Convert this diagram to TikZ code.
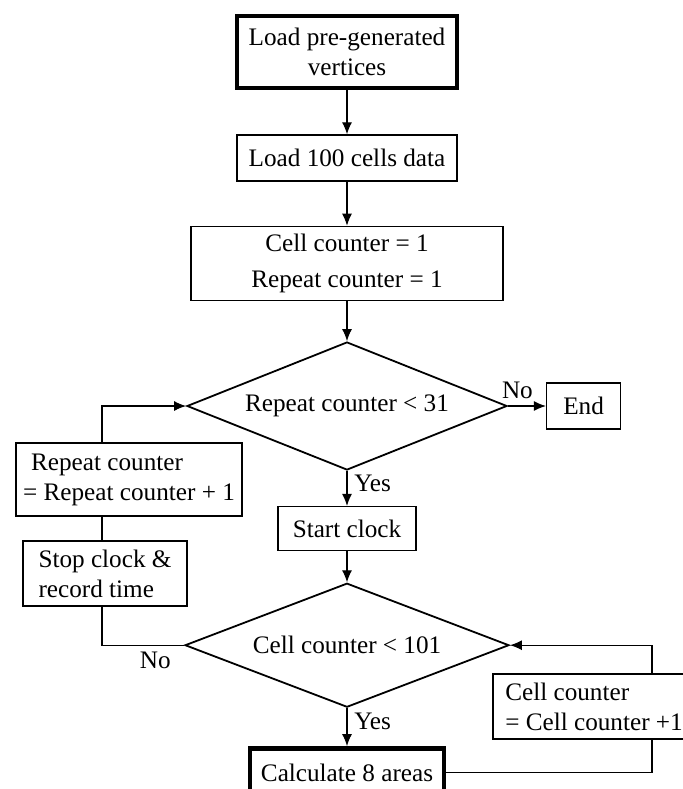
\documentclass[tikz,border=0pt]{standalone}
\usepackage{fontspec}
\setmainfont{Liberation Serif}
\usetikzlibrary{shapes.geometric, arrows.meta, positioning}
\tikzstyle{startstop} = [rectangle, 
line width=2.3pt, 
inner sep=2pt, 
text centered, 
draw=black]
\tikzstyle{process} = [rectangle, 
line width=0.7pt, 
inner sep=2pt, 
text centered, 
draw=black]
\tikzstyle{decision} = [diamond, 
aspect=2.5, 
line width=0.9pt, 
inner sep=0pt, 
text centered, 
draw=black]
\tikzstyle{arrow} = [line width=0.6pt,-{Latex[length=6pt,width=5pt]},draw=black]
\tikzstyle{link} = [line width=0.6pt,draw=black]

\begin{document}
\begin{tikzpicture}[x=0.5pt, y=-0.5pt, every node/.style={font=\fontsize{12.6}{15}\selectfont}, align=center]

        \useasboundingbox (0,0) rectangle (683,789);

        % Nodos
        \node (load) [startstop, minimum width=110pt, minimum height=36pt] at (347,52) {Load pre-generated\\vertices};
        \node (cells) [process, below=22pt of load, minimum width=110pt, minimum height=23pt] {Load 100 cells data};
        \node (init) [process, below=22pt of cells, minimum width=156pt, minimum height=37pt] {Cell counter = 1\\[3pt]Repeat counter = 1};
        \node (repeat) [decision, below=20pt of init, minimum width=160pt, minimum height=64pt] {Repeat counter < 31};
        \node (end) [process, right=19pt of repeat, minimum width=37pt, minimum height=23pt] {End};
        \node (clock) [process, below=17.5pt of repeat, minimum width=69pt, minimum height=22pt] {Start clock};
        \node (cellchk) [decision, below=15.5pt of clock, minimum width=162pt, minimum height=62pt] {Cell counter < 101};
        \node (calc) [startstop, below=19pt of cellchk, minimum width=97pt, minimum height=24pt] {Calculate 8 areas};
        \node (repinc) [process, align=left, minimum width=113pt, minimum height=36.5pt] at (129,479.5) {\hspace*{4pt}Repeat counter\\= Repeat counter + 1};
        \node (stop) [process, align=left, minimum width=82pt, minimum height=32.5pt] at (105,573.5) {Stop clock \&\\record time};
        \node (cellinc) [process, align=left, minimum width=101pt, minimum height=32.5pt] at (594,706.5) {Cell counter\\= Cell counter +1};
        \coordinate (lx) at (102,0);
        \coordinate (rx) at (652,0);

        % Conexiones
        \draw [arrow] (load) -- (cells);
        \draw [arrow] (cells) -- (init);
        \draw [arrow] (init) -- (repeat);
        \draw [arrow] (repeat) -- node[above, pos=0.25] {No} (end);
        \draw [arrow] (repeat) -- node[right, pos=0.35] {Yes} (clock);
        \draw [arrow] (clock) -- (cellchk);
        \draw [arrow] (cellchk) -- node[right, pos=0.35] {Yes} (calc);
        \draw [link] (cellchk.west) -- node[below, pos=0.35] {No} (lx |- cellchk.west) -- (lx |- stop.south);
        \draw [link] (lx |- stop.north) -- (lx |- repinc.south);
        \draw [arrow] (lx |- repinc.north) |- (repeat.west);
        \draw [link] (calc.east) -| (rx |- cellinc.south);
        \draw [arrow] (rx |- cellinc.north) |- (cellchk.east);

    \end{tikzpicture}
\end{document}
